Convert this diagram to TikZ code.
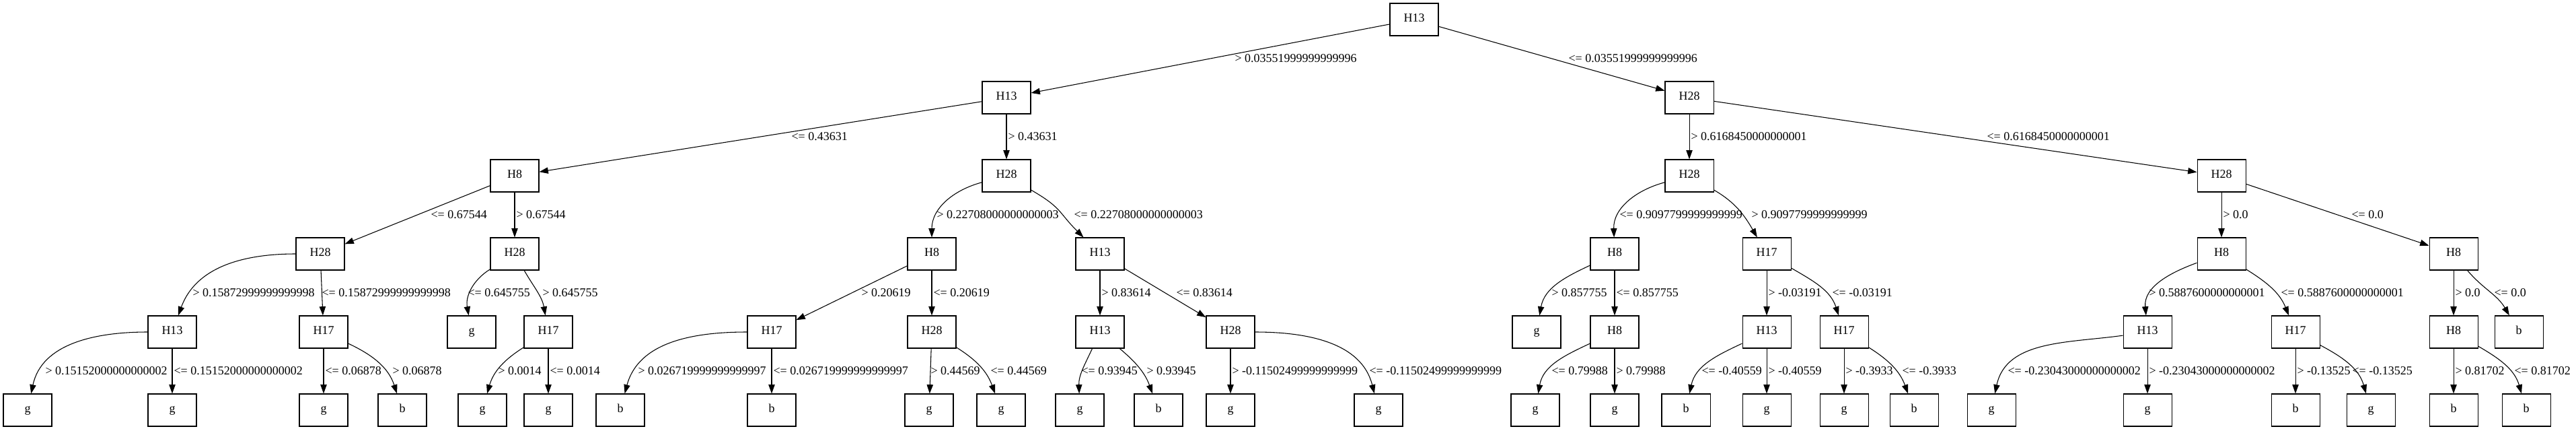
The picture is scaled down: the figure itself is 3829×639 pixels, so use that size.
\documentclass[tikz,border=0pt]{standalone}
\usepackage{fontspec}
\setmainfont{Liberation Serif}
\usepackage{tikz}
\usetikzlibrary{arrows.meta}

\begin{document}
\begin{tikzpicture}[>={Triangle[length=10pt,width=7pt]},x=0.75pt,y=-0.75pt,line width=0.8pt]
	\useasboundingbox (0,0) rectangle (3829,639);
	\tikzset{every node/.style={font=\fontsize{13.5}{16}\selectfont}}
	\tikzset{box/.style={draw,rectangle,minimum width=54pt,minimum height=36pt,inner sep=0pt,text height=0.68em,text depth=0.22em}}
	\tikzset{lbl/.style={anchor=base west,inner sep=0pt}}
	\tikzset{myedge/.style={->}}
	% level 0 and 1
	\node[box] (r)  at (2102,29)  {H13};
	\node[box] (a)  at (1496,145) {H13};
	\node[box] (b)  at (2511,145) {H28};
	% level 2
	\node[box] (aa) at (765,261)  {H8};
	\node[box] (ab) at (1496,261) {H28};
	\node[box] (ba) at (2511,261) {H28};
	\node[box] (bb) at (3302,261) {H28};
	% level 3
	\node[box] (aaa) at (476,377)  {H28};
	\node[box] (aab) at (765,377)  {H28};
	\node[box] (aba) at (1385,377) {H8};
	\node[box] (abb) at (1635,377) {H13};
	\node[box] (baa) at (2400,377) {H8};
	\node[box] (bab) at (2626,377) {H17};
	\node[box] (bba) at (3302,377) {H8};
	\node[box] (bbb) at (3647,377) {H8};
	% level 4
	\node[box] (aaaa) at (256,493)  {H13};
	\node[box] (aaab) at (481,493)  {H17};
	\node[box] (aaba) at (701,493)  {g};
	\node[box] (aabb) at (815,493)  {H17};
	\node[box] (abaa) at (1147,493) {H17};
	\node[box] (abab) at (1385,493) {H28};
	\node[box] (abba) at (1635,493) {H13};
	\node[box] (abbb) at (1829,493) {H28};
	\node[box] (baaa) at (2284,493) {g};
	\node[box] (baab) at (2400,493) {H8};
	\node[box] (baba) at (2626,493) {H13};
	\node[box] (babb) at (2741,493) {H17};
	\node[box] (bbaa) at (3192,493) {H13};
	\node[box] (bbab) at (3412,493) {H17};
	\node[box] (bbba) at (3647,493) {H8};
	\node[box] (bbbb) at (3744,493) {b};
	% level 5
	\node[box] (aaaaa) at (41,609)   {g};
	\node[box] (aaaab) at (256,609)  {g};
	\node[box] (aaaba) at (481,609)  {g};
	\node[box] (aaabb) at (598,609)  {b};
	\node[box] (aabba) at (717,609)  {g};
	\node[box] (aabbb) at (815,609)  {g};
	\node[box] (abaaa) at (922,609)  {b};
	\node[box] (abaab) at (1147,609) {b};
	\node[box] (ababa) at (1381,609) {g};
	\node[box] (ababb) at (1488,609) {g};
	\node[box] (abbaa) at (1605,609) {g};
	\node[box] (abbab) at (1722,609) {b};
	\node[box] (abbba) at (1829,609) {g};
	\node[box] (abbbb) at (2049,609) {g};
	\node[box] (baaba) at (2282,609) {g};
	\node[box] (baabb) at (2400,609) {g};
	\node[box] (babaa) at (2506,609) {b};
	\node[box] (babab) at (2626,609) {g};
	\node[box] (babba) at (2741,609) {g};
	\node[box] (babbb) at (2845,609) {b};
	\node[box] (bbaaa) at (2960,609) {g};
	\node[box] (bbaab) at (3192,609) {g};
	\node[box] (bbaba) at (3412,609) {b};
	\node[box] (bbabb) at (3524,609) {g};
	\node[box] (bbbaa) at (3647,609) {b};
	\node[box] (bbbab) at (3755,609) {b};

	\path
	(r)  edge [myedge] (a)
	(r)  edge [myedge] (b)
	(a)  edge [myedge] (aa)
	(a)  edge [myedge] (ab)
	(b)  edge [myedge] (ba)
	(b)  edge [myedge] (bb);
	\path
	(aa) edge [myedge] (aaa)
	(aa) edge [myedge] (aab)
	(ab) edge [myedge,out=195,in=90] (aba)
	(ab) edge [myedge,out=-30,in=135,looseness=1.3] (abb)
	(ba) edge [myedge,out=195,in=92] (baa)
	(ba) edge [myedge,out=-30,in=120] (bab)
	(bb) edge [myedge] (bba)
	(bb) edge [myedge] (bbb);
	\path
	(aaa) edge [myedge,out=180,in=70] (aaaa)
	(aaa) edge [myedge] (aaab)
	(aab) edge [myedge,out=212,in=100] (aaba)
	(aab) edge [myedge,out=-60,in=100] (aabb)
	(aba) edge [myedge] (abaa)
	(aba) edge [myedge] (abab)
	(abb) edge [myedge] (abba)
	(abb) edge [myedge] (abbb)
	(baa) edge [myedge,out=205,in=80] (baaa)
	(baa) edge [myedge] (baab)
	(bab) edge [myedge] (baba)
	(bab) edge [myedge,out=-30,in=108] (babb)
	(bba) edge [myedge,out=200,in=95] (bbaa)
	(bba) edge [myedge,out=-32,in=112] (bbab)
	(bbb) edge [myedge] (bbba)
	(bbb) edge [myedge,out=-50,in=120] (bbbb);
	\path
	(aaaa) edge [myedge,out=180,in=78] (aaaaa)
	(aaaa) edge [myedge] (aaaab)
	(aaab) edge [myedge] (aaaba)
	(aaab) edge [myedge,out=-25,in=108] (aaabb)
	(aabb) edge [myedge,out=212,in=74] (aabba)
	(aabb) edge [myedge] (aabbb)
	(abaa) edge [myedge,out=180,in=75] (abaaa)
	(abaa) edge [myedge] (abaab)
	(abab) edge [myedge] (ababa)
	(abab) edge [myedge,out=-32,in=110] (ababb)
	(abba) edge [myedge,out=245,in=92] (abbaa)
	(abba) edge [myedge,out=-40,in=110] (abbab)
	(abbb) edge [myedge] (abbba)
	(abbb) edge [myedge,out=0,in=104] (abbbb)
	(baab) edge [myedge,out=205,in=80] (baaba)
	(baab) edge [myedge] (baabb)
	(baba) edge [myedge,out=205,in=78] (babaa)
	(baba) edge [myedge] (babab)
	(babb) edge [myedge] (babba)
	(babb) edge [myedge,out=-32,in=110] (babbb)
	(bbaa) edge [myedge,out=188,in=78] (bbaaa)
	(bbaa) edge [myedge] (bbaab)
	(bbab) edge [myedge] (bbaba)
	(bbab) edge [myedge,out=-28,in=106] (bbabb)
	(bbba) edge [myedge] (bbbaa)
	(bbba) edge [myedge,out=-30,in=106] (bbbab);

	% edge labels
	\node[lbl] (la)  at (1835,92)  {> 0.03551999999999996};
	\node[lbl] (lb)  at (2331,92)  {<= 0.03551999999999996};
	\node[lbl] (laa) at (1176,208) {<= 0.43631};
	\node[lbl] (lab) at (1498,208) {> 0.43631};
	\node[lbl] (lba) at (2513,208) {> 0.6168450000000001};
	\node[lbl] (lbb) at (2953,208) {<= 0.6168450000000001};
	\node[lbl] (laaa) at (640,324)  {<= 0.67544};
	\node[lbl] (laab) at (767,324)  {> 0.67544};
	\node[lbl] (laba) at (1392,324) {> 0.22708000000000003};
	\node[lbl] (labb) at (1596,324) {<= 0.22708000000000003};
	\node[lbl] (lbaa) at (2407,324) {<= 0.9097799999999999};
	\node[lbl] (lbab) at (2603,324) {> 0.9097799999999999};
	\node[lbl] (lbba) at (3304,324) {> 0.0};
	\node[lbl] (lbbb) at (3495,324) {<= 0.0};
	\node[lbl] (laaaa) at (286,440)  {> 0.15872999999999998};
	\node[lbl] (laaab) at (478,440)  {<= 0.15872999999999998};
	\node[lbl] (laaba) at (695,440)  {<= 0.645755};
	\node[lbl] (laabb) at (806,440)  {> 0.645755};
	\node[lbl] (labaa) at (1280,440) {> 0.20619};
	\node[lbl] (labab) at (1387,440) {<= 0.20619};
	\node[lbl] (labba) at (1637,440) {> 0.83614};
	\node[lbl] (labbb) at (1748,440) {<= 0.83614};
	\node[lbl] (lbaaa) at (2306,440) {> 0.857755};
	\node[lbl] (lbaab) at (2402,440) {<= 0.857755};
	\node[lbl] (lbaba) at (2628,440) {> -0.03191};
	\node[lbl] (lbabb) at (2723,440) {<= -0.03191};
	\node[lbl] (lbbaa) at (3194,440) {> 0.5887600000000001};
	\node[lbl] (lbbab) at (3390,440) {<= 0.5887600000000001};
	\node[lbl] (lbbba) at (3649,440) {> 0.0};
	\node[lbl] (lbbbb) at (3707,440) {<= 0.0};
	\node[lbl] (laaaaa) at (67,556)   {> 0.15152000000000002};
	\node[lbl] (laaaab) at (258,556)  {<= 0.15152000000000002};
	\node[lbl] (laaaba) at (483,556)  {<= 0.06878};
	\node[lbl] (laaabb) at (583,556)  {> 0.06878};
	\node[lbl] (laabba) at (740,556)  {> 0.0014};
	\node[lbl] (laabbb) at (817,556)  {<= 0.0014};
	\node[lbl] (labaaa) at (948,556)  {> 0.026719999999999997};
	\node[lbl] (labaab) at (1149,556) {<= 0.026719999999999997};
	\node[lbl] (lababa) at (1383,556) {> 0.44569};
	\node[lbl] (lababb) at (1472,556) {<= 0.44569};
	\node[lbl] (labbaa) at (1607,556) {<= 0.93945};
	\node[lbl] (labbab) at (1704,556) {> 0.93945};
	\node[lbl] (labbba) at (1831,556) {> -0.11502499999999999};
	\node[lbl] (labbbb) at (2035,556) {<= -0.11502499999999999};
	\node[lbl] (lbaaba) at (2306,556) {<= 0.79988};
	\node[lbl] (lbaabb) at (2402,556) {> 0.79988};
	\node[lbl] (lbabaa) at (2529,556) {<= -0.40559};
	\node[lbl] (lbabab) at (2628,556) {> -0.40559};
	\node[lbl] (lbabba) at (2743,556) {> -0.3933};
	\node[lbl] (lbabbb) at (2827,556) {<= -0.3933};
	\node[lbl] (lbbaaa) at (2984,556) {<= -0.23043000000000002};
	\node[lbl] (lbbaab) at (3194,556) {> -0.23043000000000002};
	\node[lbl] (lbbaba) at (3414,556) {> -0.13525};
	\node[lbl] (lbbabb) at (3496,556) {<= -0.13525};
	\node[lbl] (lbbbaa) at (3649,556) {> 0.81702};
	\node[lbl] (lbbbab) at (3737,556) {<= 0.81702};
\end{tikzpicture}
\end{document}
